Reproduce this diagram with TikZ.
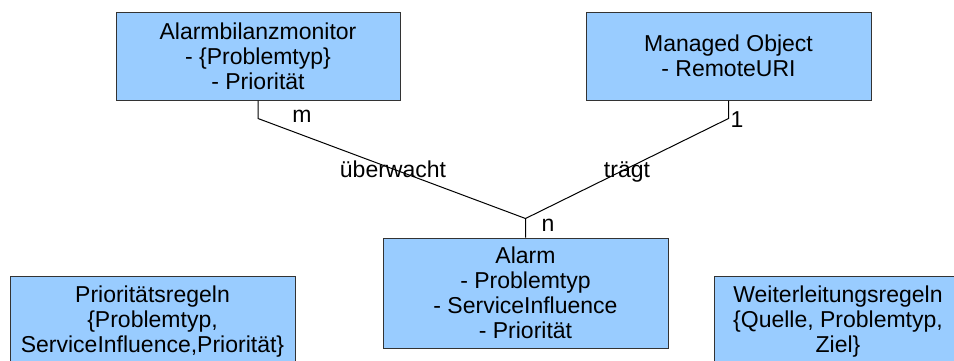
\documentclass[tikz,border=0pt]{standalone}
\usepackage{fontspec}
\setmainfont{Liberation Sans}
\usetikzlibrary{positioning}

\definecolor{boxblue}{HTML}{99CCFF}
\tikzset{
  entity/.style={draw=black!80, fill=boxblue, rectangle, align=center,
    inner sep=2pt, line width=1pt, font=\fontsize{23pt}{25pt}\selectfont},
  tag/.style={inner sep=0pt, anchor=base, font=\fontsize{23pt}{25pt}\selectfont},
  link/.style={line width=1pt, black}
}

\begin{document}
\begin{tikzpicture}[x=1pt, y=-1pt]
  \path[use as bounding box, clip] (0,0) rectangle (954,360);

  \node[entity, minimum width=284pt, minimum height=88pt] (monitor) at (258,56)
    {Alarmbilanzmonitor\\- \{Problemtyp\}\\- Priorität};
  \node[entity, minimum width=285pt, minimum height=88pt] (managed) at (728.5,56)
    {Managed Object\\- RemoteURI};
  \node[entity, minimum width=285pt, minimum height=110pt] (alarm) at (525.5,293)
    {Alarm\\- Problemtyp\\- ServiceInfluence\\- Priorität};
  \node[entity, minimum width=285pt, minimum height=92pt] (prio) at (152.5,322)
    {Prioritätsregeln\\\{Problemtyp,\\ServiceInfluence,Priorität\}};
  \node[entity, minimum width=248pt, minimum height=92pt] (forward) at (838,322)
    {Weiterleitungsregeln\\\{Quelle, Problemtyp,\\Ziel\}};

  \coordinate (hub) at ([yshift=19pt]alarm.north);
  \draw[link] (monitor.south) -- ++(0,18) -- (hub) -- (alarm.north);
  \draw[link] (managed.south) -- ++(0,18) -- (hub);

  \node[tag] (mult-m) at (302,122) {m};
  \node[tag] (mult-1) at (737,127) {1};
  \node[tag] (mult-n) at (548,231) {n};
  \node[tag] (rel-watch) at (393,177) {überwacht};
  \node[tag] (rel-carry) at (627,177) {trägt};
\end{tikzpicture}
\end{document}
